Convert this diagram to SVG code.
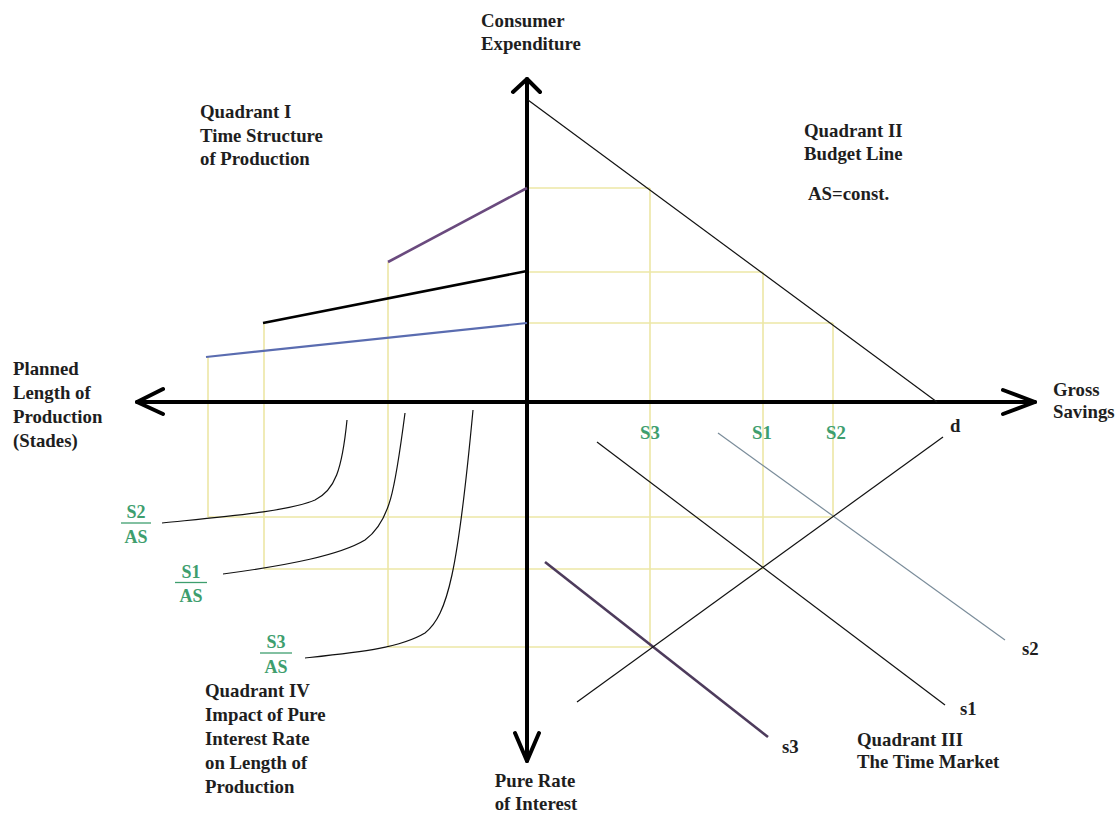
<svg xmlns="http://www.w3.org/2000/svg" width="1120" height="814" viewBox="0 0 1120 814">
<style>
text{font-family:"Liberation Serif","Times New Roman",serif;font-weight:bold;fill:#1e1e1e;font-size:18.8px}
.g{fill:#3e9e6e}
.gl{font-size:18px}
.ax{stroke:#000;stroke-width:4;fill:none;stroke-linecap:round;stroke-linejoin:round}
.y{stroke:#ede7a6;stroke-width:1.6;fill:none}
.thin{stroke:#111;stroke-width:1.2;fill:none}
.bar{stroke:#3e9e6e;stroke-width:1.3}
</style>
<rect width="1120" height="814" fill="#fff"/>
<g id="guides">
<path class="y" d="M527,188H650M527,272H763M527,323H833M650,188V647M763,272V569M833,323V517M208,517H833M264,569H763M388,647H653M208,357V517M264,323V569M388,262V647"/>
</g>
<g id="axes">
<path class="ax" d="M137,402H1035M527,79V761"/>
<path class="ax" d="M163,389L137,402L163,414M1003,390L1035,402L1003,414M513,92L527,79L540,92M515,733L527,761L539,733"/>
</g>
<g id="connectors">
<path class="thin" d="M528,100L937,402"/>
<path d="M388,262L527,188" stroke="#6a4a7e" stroke-width="2.6" fill="none"/>
<path d="M263,323L527,271" stroke="#000" stroke-width="2.6" fill="none"/>
<path d="M206,357L527,323" stroke="#5a6cb0" stroke-width="2.2" fill="none"/>
<path class="thin" d="M162,523C230,516 290,511 315,500C335,490 342,470 347,420"/>
<path class="thin" d="M223,574C290,565 340,555 365,540C390,522 395,490 405,413"/>
<path class="thin" d="M305,658C360,652 400,648 425,633C448,615 458,570 473,410"/>
<path class="thin" d="M597,442L945,705"/>
<path d="M718,433L1005,640" stroke="#7a8c9a" stroke-width="1.2" fill="none"/>
<path d="M545,562L768,737" stroke="#4d3b5c" stroke-width="2.6" fill="none"/>
<path class="thin" d="M577,702L943,437"/>
</g>
<g id="axis-labels">
<text x="481" y="27">Consumer</text>
<text x="481" y="50">Expenditure</text>
<text x="1053" y="396">Gross</text>
<text x="1053" y="418">Savings</text>
<text x="13" y="375">Planned</text>
<text x="13" y="399">Length of</text>
<text x="13" y="423">Production</text>
<text x="13" y="447">(Stades)</text>
<text x="535" y="787" text-anchor="middle">Pure Rate</text>
<text x="536" y="810" text-anchor="middle">of Interest</text>
</g>
<g id="quadrant-labels">
<text x="200" y="118">Quadrant I</text>
<text x="200" y="141.5">Time Structure</text>
<text x="200" y="165">of Production</text>
<text x="804" y="137">Quadrant II</text>
<text x="804" y="160">Budget Line</text>
<text x="808" y="200">AS=const.</text>
<text x="857" y="746">Quadrant III</text>
<text x="857" y="768">The Time Market</text>
<text x="205" y="697">Quadrant IV</text>
<text x="205" y="721">Impact of Pure</text>
<text x="205" y="745">Interest Rate</text>
<text x="205" y="769">on Length of</text>
<text x="205" y="793">Production</text>
</g>
<g id="curve-labels">
<text x="950" y="432">d</text>
<text x="960" y="715">s1</text>
<text x="1022" y="655">s2</text>
<text x="782" y="753">s3</text>
</g>
<g id="savings-labels">
<text class="g" x="650" y="439" text-anchor="middle">S3</text>
<text class="g" x="762" y="439" text-anchor="middle">S1</text>
<text class="g" x="836" y="439" text-anchor="middle">S2</text>
</g>
<g id="ratio-s2">
<text class="g gl" x="136" y="518" text-anchor="middle">S2</text>
<path class="bar" d="M121,523H151"/>
<text class="g gl" x="136" y="543" text-anchor="middle">AS</text>
</g>
<g id="ratio-s1">
<text class="g gl" x="191" y="578" text-anchor="middle">S1</text>
<path class="bar" d="M175,582.5H207"/>
<text class="g gl" x="191" y="602" text-anchor="middle">AS</text>
</g>
<g id="ratio-s3">
<text class="g gl" x="276" y="648" text-anchor="middle">S3</text>
<path class="bar" d="M260,653H292"/>
<text class="g gl" x="276" y="673" text-anchor="middle">AS</text>
</g>
</svg>
